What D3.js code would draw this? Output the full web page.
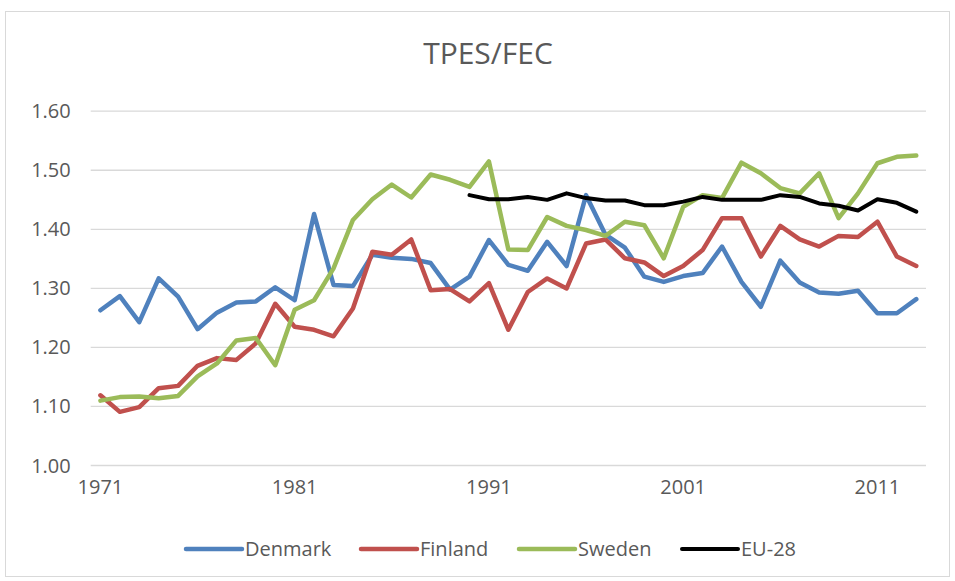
<!DOCTYPE html>
<html>
<head>
<meta charset="utf-8">
<script src="https://cdn.jsdelivr.net/npm/d3@7"></script>
<style>
  body { margin: 0; background: #fff; }
  text { font-family: "Open Sans", "Noto Sans", sans-serif; fill: #595959; }
</style>
</head>
<body>
<div id="chart"></div>
<script>
var years = [1971, 1972, 1973, 1974, 1975, 1976, 1977, 1978, 1979, 1980,
             1981, 1982, 1983, 1984, 1985, 1986, 1987, 1988, 1989, 1990,
             1991, 1992, 1993, 1994, 1995, 1996, 1997, 1998, 1999, 2000,
             2001, 2002, 2003, 2004, 2005, 2006, 2007, 2008, 2009, 2010,
             2011, 2012, 2013];

var denmark = [1.262, 1.286, 1.242, 1.316, 1.285, 1.230, 1.258, 1.275, 1.277, 1.301,
               1.279, 1.425, 1.305, 1.303, 1.356, 1.351, 1.349, 1.342, 1.297, 1.319,
               1.381, 1.339, 1.329, 1.378, 1.337, 1.457, 1.390, 1.368, 1.319, 1.310,
               1.320, 1.325, 1.370, 1.310, 1.268, 1.346, 1.309, 1.292, 1.290, 1.295,
               1.257, 1.257, 1.281];

var finland = [1.118, 1.090, 1.098, 1.130, 1.134, 1.168, 1.181, 1.178, 1.206, 1.273,
               1.234, 1.229, 1.218, 1.265, 1.361, 1.356, 1.382, 1.296, 1.298, 1.277,
               1.308, 1.229, 1.293, 1.316, 1.299, 1.375, 1.382, 1.350, 1.343, 1.320,
               1.337, 1.364, 1.418, 1.418, 1.353, 1.405, 1.382, 1.370, 1.388, 1.386,
               1.412, 1.353, 1.337];

var sweden = [1.109, 1.115, 1.116, 1.113, 1.117, 1.150, 1.172, 1.211, 1.215, 1.169,
              1.263, 1.279, 1.333, 1.415, 1.450, 1.475, 1.453, 1.492, 1.483, 1.471,
              1.514, 1.365, 1.364, 1.420, 1.405, 1.398, 1.388, 1.412, 1.406, 1.350,
              1.437, 1.457, 1.452, 1.512, 1.494, 1.469, 1.460, 1.494, 1.418, 1.460,
              1.511, 1.522, 1.524];

// EU-28 only starts in 1990
var euYears = years.slice(19);
var eu28 = [1.457, 1.450, 1.450, 1.454, 1.449, 1.460, 1.452, 1.448, 1.448, 1.440,
            1.440, 1.446, 1.454, 1.449, 1.449, 1.449, 1.457, 1.454, 1.443, 1.439,
            1.431, 1.450, 1.444, 1.429];

var yTicks = [1.0, 1.1, 1.2, 1.3, 1.4, 1.5, 1.6];
var xTicks = [1971, 1981, 1991, 2001, 2011];

var series = [
  { name: "Denmark", years: years, values: denmark, color: "#4F81BD", width: 4.5 },
  { name: "Finland", years: years, values: finland, color: "#C0504D", width: 4.5 },
  { name: "Sweden", years: years, values: sweden, color: "#9BBB59", width: 4.5 },
  { name: "EU-28", years: euYears, values: eu28, color: "#000000", width: 4 }
];

var svgWidth = 955;
var svgHeight = 581;

var plot = { left: 90.7, right: 926, top: 110.7, bottom: 465 };

var svg = d3.select("#chart")
  .append("svg")
  .attr("width", svgWidth)
  .attr("height", svgHeight);

// chart area border
svg.append("rect")
  .attr("x", 5.5)
  .attr("y", 11.5)
  .attr("width", 944)
  .attr("height", 565)
  .attr("fill", "#fff")
  .attr("stroke", "#D9D9D9")
  .attr("stroke-width", 1);

svg.append("text")
  .attr("x", 488)
  .attr("y", 64)
  .attr("text-anchor", "middle")
  .attr("font-size", "30px")
  .text("TPES/FEC");

var xScale = d3.scaleBand()
  .domain(years)
  .range([plot.left, plot.right])
  .padding(0);

var xCenter = function(yr) { return xScale(yr) + xScale.bandwidth() / 2; };

var yScale = d3.scaleLinear()
  .domain([1.0, 1.6])
  .range([plot.bottom, plot.top]);

// gridlines + y labels
var leftAxis = d3.axisLeft(yScale)
  .tickValues(yTicks)
  .tickSize(-(plot.right - plot.left))
  .tickPadding(20)
  .tickFormat(d3.format(".2f"));

var yAxis = svg.append("g")
  .attr("transform", `translate(${plot.left}, 0)`)
  .call(leftAxis);

yAxis.select(".domain").remove();
yAxis.selectAll(".tick line")
  .attr("stroke", "#D9D9D9")
  .attr("stroke-width", 1.3);
yAxis.selectAll(".tick text")
  .attr("font-size", "20px")
  .attr("font-family", null)
  .attr("fill", "#595959")
  .attr("dy", "0.35em");

var bottomAxis = d3.axisBottom(xScale)
  .tickValues(xTicks)
  .tickSize(0)
  .tickPadding(22);

var xAxis = svg.append("g")
  .attr("transform", `translate(0, ${plot.bottom})`)
  .call(bottomAxis);

xAxis.select(".domain").remove();
xAxis.selectAll(".tick text")
  .attr("font-size", "20px")
  .attr("font-family", null)
  .attr("fill", "#595959")
  .attr("dy", "0.35em");

var line = d3.line()
  .x(d => xCenter(d.year))
  .y(d => yScale(d.value));

series.forEach(function(s) {
  var pts = s.values.map((v, i) => ({ year: s.years[i], value: v }));
  svg.append("path")
    .datum(pts)
    .attr("d", line)
    .attr("fill", "none")
    .attr("stroke", s.color)
    .attr("stroke-width", s.width)
    .attr("stroke-linejoin", "round")
    .attr("stroke-linecap", "round");
});

// legend
var legendX = [186, 361, 519, 682];
var legend = svg.append("g");

series.forEach(function(s, i) {
  var g = legend.append("g")
    .attr("transform", `translate(${legendX[i]}, 549)`);
  g.append("line")
    .attr("x1", 0)
    .attr("x2", 56)
    .attr("y1", 0)
    .attr("y2", 0)
    .attr("stroke", s.color)
    .attr("stroke-width", s.width)
    .attr("stroke-linecap", "round");
  g.append("text")
    .attr("x", 59)
    .attr("y", 0)
    .attr("dy", "0.35em")
    .attr("font-size", "20px")
    .text(s.name);
});
</script>
</body>
</html>
